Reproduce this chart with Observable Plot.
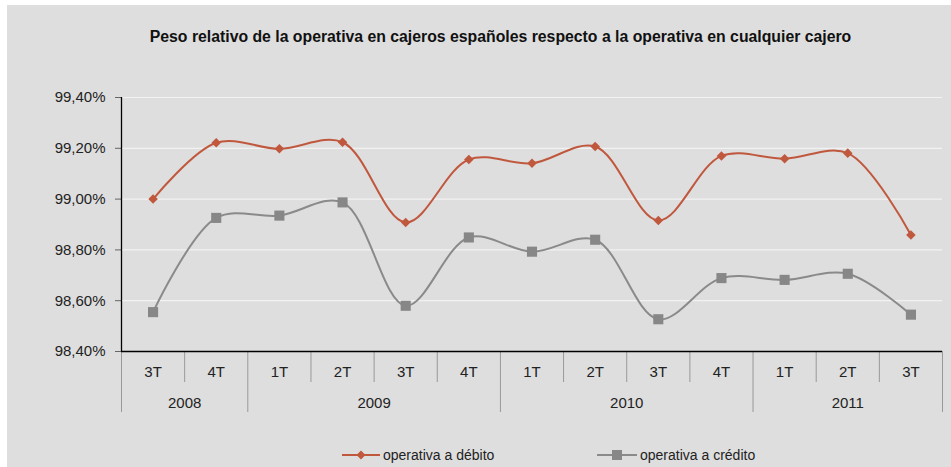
<!DOCTYPE html>
<html>
<head>
<meta charset="utf-8">
<script src="https://cdn.jsdelivr.net/npm/d3@7"></script>
<script src="https://cdn.jsdelivr.net/npm/@observablehq/plot@0.6"></script>
<style>
  body { margin: 0; background: #fff; font-family: "Liberation Sans", Arial, sans-serif; }
  #wrap { position: relative; width: 951px; height: 467px; overflow: hidden; background: #fff; }
  #panel { position: absolute; left: 7px; top: 5px; right: 0; bottom: 0; background: #dedede; }
  #title { position: absolute; left: 0; width: 1001px; top: 29px; text-align: center;
           font-size: 15.8px; line-height: 15px; font-weight: bold; color: #111; white-space: nowrap; }
  #chart { position: absolute; left: 0; top: 0; }
  .leg { position: absolute; top: 447px; height: 16px; display: flex; align-items: center;
         font-size: 14px; line-height: 14px; color: #222; white-space: nowrap; }
  .leg svg { margin-right: 3px; }
</style>
</head>
<body>
<div id="wrap">
  <div id="panel"></div>
  <div id="title">Peso relativo de la operativa en cajeros españoles respecto a la operativa en cualquier cajero</div>
  <div id="chart"></div>
  <div class="leg" style="left:342px">
    <svg width="38" height="14"><line x1="0" x2="38" y1="7" y2="7" stroke="#c0583e" stroke-width="2"/><path d="M19,2.5L23.5,7L19,11.5L14.5,7Z" fill="#c0583e"/></svg>operativa a débito
  </div>
  <div class="leg" style="left:597px">
    <svg width="40" height="14"><line x1="0" x2="40" y1="7" y2="7" stroke="#8a8a8a" stroke-width="2"/><rect x="15" y="2" width="10" height="10" fill="#878787"/></svg>operativa a crédito
  </div>
</div>
<script>
// ---- data ----
const quarters = ["3T","4T","1T","2T","3T","4T","1T","2T","3T","4T","1T","2T","3T"];
const years    = ["2008","2008","2009","2009","2009","2009","2010","2010","2010","2010","2011","2011","2011"];
const debito   = [99.000, 99.222, 99.198, 99.224, 98.908, 99.156, 99.141, 99.207, 98.916, 99.170, 99.159, 99.181, 98.859];
const credito  = [98.555, 98.926, 98.935, 98.987, 98.580, 98.849, 98.793, 98.840, 98.527, 98.689, 98.682, 98.706, 98.545];
const yTicks   = [98.4, 98.6, 98.8, 99.0, 99.2, 99.4];

const colDeb = "#c0583e";
const colCre = "#8a8a8a";

const rows = quarters.map((q, i) => ({i, q, year: years[i], debito: debito[i], credito: credito[i]}));

// year groups
const yearList = Array.from(new Set(years));
const yearCenters = yearList.map(y => {
  const idx = d3.range(years.length).filter(i => years[i] === y);
  return (d3.min(idx) + d3.max(idx)) / 2;
});
const yearBounds = [-0.5, ...yearList.map(y => d3.max(d3.range(years.length).filter(i => years[i] === y)) + 0.5)];
const quarterBounds = d3.range(years.length - 1).map(i => i + 0.5).filter(b => !yearBounds.includes(b));

const fmt = v => v.toFixed(2).replace(".", ",") + "%";
const font = "'Liberation Sans', Arial, sans-serif";

const chart = Plot.plot({
  width: 951,
  height: 420,
  marginLeft: 121,
  marginRight: 9,
  marginTop: 97,
  marginBottom: 69,
  x: {domain: [-0.5, quarters.length - 0.5], axis: null},
  y: {domain: [98.4, 99.4], axis: null},
  style: {background: "transparent", fontFamily: font, fontSize: "15px", color: "#222", overflow: "visible"},
  marks: [
    Plot.ruleY(yTicks.slice(1), {stroke: "#f2f2f2", strokeWidth: 1.2}),
    Plot.axisY({ticks: yTicks, tickFormat: fmt, tickSize: 6, tickPadding: 10, stroke: "#666", fontSize: 15, label: null}),
    Plot.axisX({ticks: quarterBounds, tickSize: 31, tickFormat: () => "", stroke: "#999", label: null}),
    Plot.axisX({ticks: yearBounds, tickSize: 61, tickFormat: () => "", stroke: "#999", label: null}),
    Plot.axisX({ticks: d3.range(quarters.length), tickSize: 0, tickPadding: 15, tickFormat: i => quarters[i], fontSize: 15, label: null}),
    Plot.axisX({ticks: yearCenters, tickSize: 0, tickPadding: 46, tickFormat: c => yearList[yearCenters.indexOf(c)], fontSize: 15, label: null}),
    Plot.ruleX([-0.5], {stroke: "#000", strokeWidth: 1.3}),
    Plot.ruleY([98.4], {stroke: "#000", strokeWidth: 1.3}),
    Plot.line(rows, {x: "i", y: "credito", stroke: colCre, strokeWidth: 2, curve: "catmull-rom"}),
    Plot.line(rows, {x: "i", y: "debito", stroke: colDeb, strokeWidth: 2, curve: "catmull-rom"}),
    Plot.dot(rows, {x: "i", y: "credito", symbol: "square", r: 5.7, fill: "#878787", stroke: "none"}),
    Plot.dot(rows, {x: "i", y: "debito", symbol: "diamond2", r: 4.3, fill: colDeb, stroke: "none"})
  ]
});
document.getElementById("chart").appendChild(chart);
</script>
</body>
</html>
